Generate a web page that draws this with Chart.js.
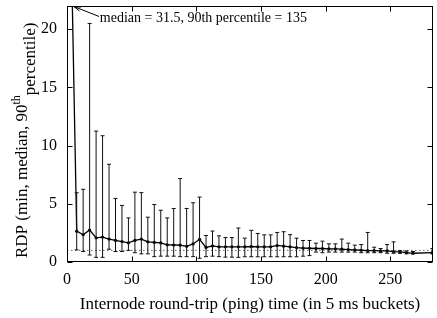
<!DOCTYPE html>
<html><head><meta charset="utf-8">
<script src="https://cdn.jsdelivr.net/npm/chart.js@4/dist/chart.umd.min.js"></script>
<style>html,body{margin:0;padding:0;background:#fff;}canvas{display:block;}</style>
</head><body>
<canvas id="c" width="437" height="318"></canvas>
<script>
// ---- data ----
const bucketCenters = [2.5,7.5,12.5,17.5,22.5,27.5,32.5,37.5,42.5,47.5,52.5,57.5,62.5,67.5,72.5,77.5,82.5,87.5,92.5,97.5,
  102.5,107.5,112.5,117.5,122.5,127.5,132.5,137.5,142.5,147.5,152.5,157.5,162.5,167.5,172.5,177.5,182.5,187.5,192.5,197.5,
  202.5,207.5,212.5,217.5,222.5,227.5,232.5,237.5,242.5,247.5,252.5,257.5,262.5,267.5,282.5];
const medianRDP = [31.5,2.65,2.34,2.75,2.08,2.14,1.97,1.85,1.76,1.65,1.85,1.97,1.73,1.68,1.64,1.48,1.46,1.45,1.35,1.55,
  1.95,1.25,1.38,1.3,1.3,1.3,1.3,1.3,1.33,1.3,1.3,1.3,1.42,1.36,1.3,1.24,1.2,1.18,1.16,1.16,
  1.13,1.13,1.1,1.07,1.04,1.01,0.98,0.98,0.95,0.95,0.9,0.87,0.81,0.75,0.8];
const minRDP = [null,1.04,0.9,0.6,0.4,0.4,1.1,0.9,0.9,1.0,0.8,0.7,0.7,0.46,0.5,0.5,0.5,0.46,0.46,0.46,
  0.32,0.46,0.5,0.46,0.42,0.42,0.4,0.45,0.45,0.45,0.45,0.45,0.45,0.45,0.45,0.45,0.5,0.55,0.85,0.8,
  0.85,0.85,0.85,0.85,0.85,0.8,0.8,0.8,0.8,0.75,0.75,0.75,0.7,0.7,0.7];
const p90RDP = [135,5.95,6.25,20.5,11.25,10.85,8.4,5.46,4.86,3.79,6.0,5.96,3.85,4.94,4.45,3.79,4.6,7.17,4.6,5.09,
  5.58,2.28,2.66,2.25,2.1,2.1,2.92,2.05,2.72,2.45,2.33,2.33,2.54,2.6,2.35,2.05,1.85,1.85,1.62,1.79,
  1.56,1.56,1.97,1.62,1.45,1.5,2.54,1.27,1.16,1.5,1.73,0.98,0.95,0.9,1.15];
const xTickValues = [0,50,100,150,200,250];
const yTickValues = [0,5,10,15,20];
const referenceLevel = 1;
const xRange = [0, 283];
const yRange = [0, 22];
const annotationText = "median = 31.5, 90th percentile = 135";
const xTitle = "Internode round-trip (ping) time (in 5 ms buckets)";
const yTitleMain = "RDP (min, median, 90";
const yTitleSup = "th";
const yTitleRest = "percentile)";

const SERIF = '"Liberation Serif", "Times New Roman", serif';

const medianPoints = bucketCenters.map((x, i) => ({x, y: medianRDP[i]}));
const refPoints = [{x: xRange[0], y: referenceLevel}, {x: xRange[1], y: referenceLevel}];

const errorBarPlugin = {
  id: 'errorBars',
  afterDatasetsDraw(chart) {
    const {ctx, chartArea: a, scales: {x: xs, y: ys}} = chart;
    ctx.save();
    ctx.beginPath(); ctx.rect(a.left, a.top, a.right - a.left, a.bottom - a.top); ctx.clip();
    ctx.strokeStyle = '#111'; ctx.lineWidth = 1;
    bucketCenters.forEach((xv, i) => {
      if (minRDP[i] == null || medianRDP[i] > yRange[1]) return;
      const px = xs.getPixelForValue(xv);
      const y0 = ys.getPixelForValue(minRDP[i]);
      const y1 = ys.getPixelForValue(p90RDP[i]);
      ctx.beginPath();
      ctx.moveTo(px, y0); ctx.lineTo(px, y1);
      ctx.moveTo(px - 2, y0); ctx.lineTo(px + 2, y0);
      ctx.moveTo(px - 2, y1); ctx.lineTo(px + 2, y1);
      ctx.stroke();
    });
    ctx.restore();
  }
};

const framePlugin = {
  id: 'frame',
  afterDraw(chart) {
    const {ctx, chartArea: a, scales: {x: xs, y: ys}} = chart;
    ctx.save();
    ctx.strokeStyle = '#000'; ctx.lineWidth = 1;
    const L = Math.round(a.left) + 0.5, R = Math.round(a.right) - 0.5;
    const T = Math.round(a.top) + 0.5, B = Math.round(a.bottom) - 0.5;
    ctx.strokeRect(L, T, R - L, B - T);
    const tl = 5;
    ctx.beginPath();
    xTickValues.forEach(v => {
      const px = Math.round(xs.getPixelForValue(v)) + 0.5;
      ctx.moveTo(px, B); ctx.lineTo(px, B - tl);
      ctx.moveTo(px, T); ctx.lineTo(px, T + tl);
    });
    yTickValues.forEach(v => {
      const py = Math.round(ys.getPixelForValue(v)) + 0.5;
      ctx.moveTo(L, py); ctx.lineTo(L + tl, py);
      ctx.moveTo(R, py); ctx.lineTo(R - tl, py);
    });
    ctx.stroke();

    // annotation arrow + text
    const tipX = xs.getPixelForValue(5.4), tipY = ys.getPixelForValue(21.95);
    const tailX = xs.getPixelForValue(24.8), tailY = ys.getPixelForValue(21.1);
    ctx.beginPath();
    ctx.moveTo(tailX, tailY); ctx.lineTo(tipX, tipY);
    const ang = Math.atan2(tipY - tailY, tipX - tailX);
    const hl = 7, ha = 0.3;
    ctx.moveTo(tipX, tipY); ctx.lineTo(tipX - hl * Math.cos(ang - ha), tipY - hl * Math.sin(ang - ha));
    ctx.moveTo(tipX, tipY); ctx.lineTo(tipX - hl * Math.cos(ang + ha), tipY - hl * Math.sin(ang + ha));
    ctx.stroke();
    ctx.fillStyle = '#000';
    ctx.font = '14px ' + SERIF;
    ctx.textAlign = 'left'; ctx.textBaseline = 'middle';
    ctx.fillText(annotationText, xs.getPixelForValue(25.4), ys.getPixelForValue(20.95));

    // y-axis title (rotated, gnuplot-style)
    ctx.save();
    ctx.translate(26.5, 258);
    ctx.rotate(-Math.PI / 2);
    ctx.textAlign = 'left'; ctx.textBaseline = 'alphabetic';
    ctx.font = '17px ' + SERIF;
    ctx.fillText(yTitleMain, 0, 0);
    let w = ctx.measureText(yTitleMain).width;
    ctx.font = '12px ' + SERIF;
    ctx.fillText(yTitleSup, w, -7);
    w += ctx.measureText(yTitleSup).width;
    ctx.font = '17px ' + SERIF;
    ctx.fillText(yTitleRest, w, 8.5);
    ctx.restore();
    ctx.restore();
  }
};

new Chart(document.getElementById('c'), {
  type: 'scatter',
  data: {
    datasets: [
      {
        data: refPoints, showLine: true, borderColor: '#666', borderWidth: 1,
        borderDash: [1.5, 2.5], pointRadius: 0, order: 2
      },
      {
        data: medianPoints, showLine: true, borderColor: '#000', borderWidth: 1.3,
        pointRadius: 1.6, pointBackgroundColor: '#000', pointBorderColor: '#000', pointBorderWidth: 0,
        order: 1
      }
    ]
  },
  options: {
    responsive: false, animation: false, devicePixelRatio: 1,
    layout: {padding: {top: 6, right: 1, left: 0, bottom: 0}},
    plugins: {legend: {display: false}, tooltip: {enabled: false}},
    scales: {
      x: {
        type: 'linear', min: xRange[0], max: xRange[1],
        afterBuildTicks: s => { s.ticks = xTickValues.map(v => ({value: v})); },
        afterFit: s => { s.height = 56; s.paddingLeft = 0; s.paddingRight = 0; s.paddingTop = 0; s.paddingBottom = 0; },
        grid: {display: false, drawTicks: false}, border: {display: false},
        ticks: {color: '#000', font: {family: SERIF, size: 16}, padding: 8, maxRotation: 0},
        title: {display: true, text: xTitle, color: '#000', font: {family: SERIF, size: 17}, padding: {top: 0, bottom: 3}}
      },
      y: {
        type: 'linear', min: yRange[0], max: yRange[1],
        afterBuildTicks: s => { s.ticks = yTickValues.map(v => ({value: v})); },
        afterFit: s => { s.width = 67; s.paddingLeft = 0; s.paddingRight = 0; s.paddingTop = 0; s.paddingBottom = 0; },
        grid: {display: false, drawTicks: false}, border: {display: false},
        ticks: {color: '#000', font: {family: SERIF, size: 16}, padding: 10}
      }
    }
  },
  plugins: [errorBarPlugin, framePlugin]
});
</script>
</body></html>
